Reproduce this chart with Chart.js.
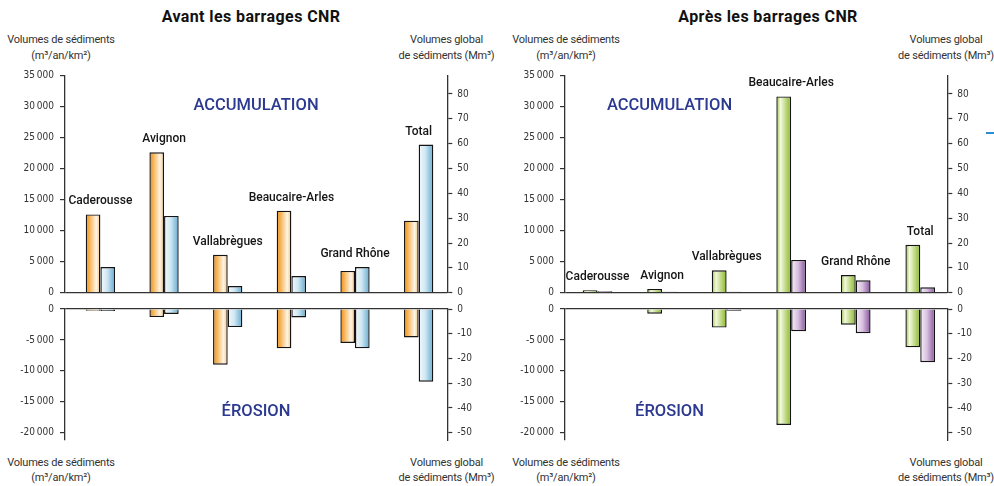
<!DOCTYPE html>
<html lang="fr">
<head>
<meta charset="utf-8">
<script src="https://cdn.jsdelivr.net/npm/chart.js@4.4.1/dist/chart.umd.min.js"></script>
<style>
  html, body { margin: 0; padding: 0; background: #fff; }
  body { width: 994px; height: 486px; position: relative; overflow: hidden; font-family: Roboto, "Open Sans", sans-serif; color: #222; }
  .box { position: absolute; }
  .t { position: absolute; transform: translate(-50%, -50%); white-space: nowrap; line-height: 1; }
  .title { font-weight: 700; font-size: 16px; letter-spacing: 0.4px; color: #111; }
  .ax { font-size: 11px; color: #333; letter-spacing: -0.2px; }
  .zone { font-size: 16.5px; font-weight: 500; color: #2b3990; }
  .dash { position: absolute; left: 986px; top: 132px; width: 9px; height: 2px; background: #2a8fd0; }
</style>
</head>
<body>
<div class="box" style="left:0;top:62px;width:494px;height:238px"><canvas id="c1" width="494" height="238"></canvas></div>
<div class="box" style="left:0;top:300px;width:494px;height:150px"><canvas id="c2" width="494" height="150"></canvas></div>
<div class="box" style="left:500px;top:62px;width:494px;height:238px"><canvas id="c3" width="494" height="238"></canvas></div>
<div class="box" style="left:500px;top:300px;width:494px;height:150px"><canvas id="c4" width="494" height="150"></canvas></div>

<div class="t title" style="left:251px;top:17px">Avant les barrages CNR</div>
<div class="t title" style="left:768px;top:17px">Après les barrages CNR</div>

<div class="t ax" style="left:61px;top:39px">Volumes de sédiments</div>
<div class="t ax" style="left:61px;top:54.5px">(m³/an/km²)</div>
<div class="t ax" style="left:446.5px;top:39px">Volumes global</div>
<div class="t ax" style="left:446.5px;top:54.5px">de sédiments (Mm³)</div>
<div class="t ax" style="left:61px;top:462px">Volumes de sédiments</div>
<div class="t ax" style="left:61px;top:477px">(m³/an/km²)</div>
<div class="t ax" style="left:446.5px;top:462px">Volumes global</div>
<div class="t ax" style="left:446.5px;top:477px">de sédiments (Mm³)</div>

<div class="t ax" style="left:566px;top:39px">Volumes de sédiments</div>
<div class="t ax" style="left:566px;top:54.5px">(m³/an/km²)</div>
<div class="t ax" style="left:946px;top:39px">Volumes global</div>
<div class="t ax" style="left:946px;top:54.5px">de sédiments (Mm³)</div>
<div class="t ax" style="left:566px;top:462px">Volumes de sédiments</div>
<div class="t ax" style="left:566px;top:477px">(m³/an/km²)</div>
<div class="t ax" style="left:946px;top:462px">Volumes global</div>
<div class="t ax" style="left:946px;top:477px">de sédiments (Mm³)</div>

<div class="t zone" style="left:256px;top:105px">ACCUMULATION</div>
<div class="t zone" style="left:256px;top:411px">ÉROSION</div>
<div class="t zone" style="left:669.5px;top:105px">ACCUMULATION</div>
<div class="t zone" style="left:669.5px;top:411px">ÉROSION</div>
<div class="dash"></div>

<script>
// ---------- DATA ----------
const categories = ['Caderousse', 'Avignon', 'Vallabrègues', 'Beaucaire-Arles', 'Grand Rhône', 'Total'];

// Avant les barrages CNR
const avantAccumSpec   = [12600, 22600, 6100, 13200, 3500, 11600];   // m³/an/km²
const avantAccumGlobal = [10.3, 30.9, 2.7, 6.7, 10.3, 59.6];          // Mm³
const avantErosSpec    = [-300, -1300, -9000, -6350, -5500, -4600];   // m³/an/km²
const avantErosGlobal  = [-0.8, -2.0, -7.3, -3.4, -15.9, -29.4];      // Mm³

// Après les barrages CNR
const apresAccumSpec   = [400, 600, 3600, 31600, 2850, 7700];         // m³/an/km²
const apresAccumGlobal = [0.6, 0.4, 0.4, 13.2, 5.0, 2.2];             // Mm³
const apresErosSpec    = [0, -750, -3000, -18750, -2550, -6200];      // m³/an/km²
const apresErosGlobal  = [0, 0, -0.7, -9.0, -9.8, -21.5];             // Mm³

// Tick labels
const accumTicksLeft  = [0, 5000, 10000, 15000, 20000, 25000, 30000, 35000];
const accumTicksRight = [0, 10, 20, 30, 40, 50, 60, 70, 80];
const erosTicksLeft   = [-20000, -15000, -10000, -5000, 0];
const erosTicksRight  = [-50, -40, -30, -20, -10, 0];

// Axis ranges (left axis m³/an/km², right axis Mm³)
const accumRangeLeft  = [0, 35000];
const accumRangeRight = [0, 87.5];
const erosRangeLeft   = [-21180, 0];
const erosRangeRight  = [-52.95, 0];

// ---------- STYLES ----------
const ORANGE = [[0, '#ea8813'], [0.18, '#f4a73d'], [0.72, '#fff5e6'], [1, '#f5bf76']];
const BLUE   = [[0, '#f4f9fc'], [0.45, '#d0e8f3'], [1, '#63a9cf']];
const GREEN  = [[0, '#95c02c'], [0.28, '#f3f9de'], [1, '#89b627']];
const PURPLE = [[0, '#f7eff9'], [0.45, '#d9c1e0'], [1, '#84529a']];
const CAT_PCT = 0.46;
const TICK_FONT = { family: "'Liberation Sans Narrow', 'DejaVu Sans Condensed', Roboto, sans-serif", size: 10 };
const AXIS_COLOR = '#333';

function fmtThousands(v) {
  const a = Math.abs(Math.round(v)).toString();
  const s = a.length > 3 ? a.slice(0, -3) + '\u2009' + a.slice(-3) : a;
  return (v < 0 ? '-' : '') + s;
}

function gradientFill(stops) {
  return (ctx) => {
    const chart = ctx.chart, xs = chart.scales.x;
    if (!xs || !chart.chartArea || ctx.type !== 'data') return stops[stops.length - 1][1];
    const step = Math.abs(xs.getPixelForValue(1) - xs.getPixelForValue(0));
    const bw = step * CAT_PCT / 2;
    const cx = xs.getPixelForValue(ctx.dataIndex);
    const left = ctx.datasetIndex === 0 ? cx - bw : cx;
    const g = chart.ctx.createLinearGradient(left, 0, left + bw, 0);
    stops.forEach(([o, c]) => g.addColorStop(o, c));
    return g;
  };
}

const groupLabels = {
  id: 'groupLabels',
  afterDatasetsDraw(chart, args, opts) {
    if (!opts || !opts.labels) return;
    const m0 = chart.getDatasetMeta(0), m1 = chart.getDatasetMeta(1);
    const c = chart.ctx;
    c.save();
    c.font = '500 12px Roboto, sans-serif';
    c.fillStyle = '#151515';
    c.textAlign = 'center';
    c.textBaseline = 'middle';
    opts.labels.forEach((lab, i) => {
      const a = m0.data[i], b = m1.data[i];
      const top = Math.min(a.y, b.y, a.base);
      c.fillText(lab, (a.x + b.x) / 2, top - 13);
    });
    c.restore();
  }
};

const setTicks = list => s => { s.ticks = list.map(v => ({ value: v })); };

function makeChart(id, cfg) {
  const ds = (vals, axis, stops) => ({
    data: vals.map((v, i) => ({ x: i, y: v })),
    yAxisID: axis,
    backgroundColor: gradientFill(stops),
    borderColor: '#141414',
    borderWidth: 1.4,
    borderSkipped: 'start',
    categoryPercentage: CAT_PCT,
    barPercentage: 1
  });
  return new Chart(document.getElementById(id), {
    type: 'bar',
    data: {
      datasets: [ds(cfg.spec, 'y', cfg.c1), ds(cfg.glob, 'y1', cfg.c2)]
    },
    options: {
      responsive: false,
      animation: false,
      events: [],
      layout: { padding: cfg.padding },
      plugins: {
        legend: { display: false },
        tooltip: { enabled: false },
        groupLabels: { labels: cfg.labels || null }
      },
      scales: {
        x: { type: 'linear', display: false, offset: false, min: cfg.xRange[0], max: cfg.xRange[1] },
        y: {
          position: 'left', min: cfg.left[0], max: cfg.left[1],
          afterBuildTicks: setTicks(cfg.ticksL),
          afterFit: s => { s.width = 65; s.paddingTop = 0; s.paddingBottom = 0; },
          ticks: { callback: v => fmtThousands(v), font: TICK_FONT, color: '#333', padding: 6, autoSkip: false },
          grid: {
            drawOnChartArea: true, tickLength: 5, lineWidth: 1.2, tickWidth: 1.2,
            color: c => (c.tick && c.tick.value === 0 ? AXIS_COLOR : 'rgba(0,0,0,0)'),
            tickColor: AXIS_COLOR
          },
          border: { display: true, color: AXIS_COLOR, width: 1.3 }
        },
        y1: {
          position: 'right', min: cfg.right[0], max: cfg.right[1],
          afterBuildTicks: setTicks(cfg.ticksR),
          afterFit: s => { s.width = 494 - 447.3; s.paddingTop = 0; s.paddingBottom = 0; },
          ticks: { font: TICK_FONT, color: '#333', padding: 5, autoSkip: false },
          grid: { drawOnChartArea: false, tickLength: 5, tickWidth: 1.2, tickColor: AXIS_COLOR },
          border: { display: true, color: AXIS_COLOR, width: 1.3 }
        }
      }
    },
    plugins: [groupLabels]
  });
}

const leftX = [-0.556, 5.45];
const rightX = [-0.504, 5.419];
const topPad = { top: 13.3, bottom: 7.3, left: 0, right: 0 };
const botPad = { top: 9, bottom: 10, left: 0, right: 0 };

makeChart('c1', { spec: avantAccumSpec, glob: avantAccumGlobal, c1: ORANGE, c2: BLUE, left: accumRangeLeft, right: accumRangeRight, ticksL: accumTicksLeft, ticksR: accumTicksRight, xRange: leftX, padding: topPad, labels: categories });
makeChart('c2', { spec: avantErosSpec, glob: avantErosGlobal, c1: ORANGE, c2: BLUE, left: erosRangeLeft, right: erosRangeRight, ticksL: erosTicksLeft, ticksR: erosTicksRight, xRange: leftX, padding: botPad });
makeChart('c3', { spec: apresAccumSpec, glob: apresAccumGlobal, c1: GREEN, c2: PURPLE, left: accumRangeLeft, right: accumRangeRight, ticksL: accumTicksLeft, ticksR: accumTicksRight, xRange: rightX, padding: topPad, labels: categories });
makeChart('c4', { spec: apresErosSpec, glob: apresErosGlobal, c1: GREEN, c2: PURPLE, left: erosRangeLeft, right: erosRangeRight, ticksL: erosTicksLeft, ticksR: erosTicksRight, xRange: rightX, padding: botPad });
</script>
</body>
</html>
